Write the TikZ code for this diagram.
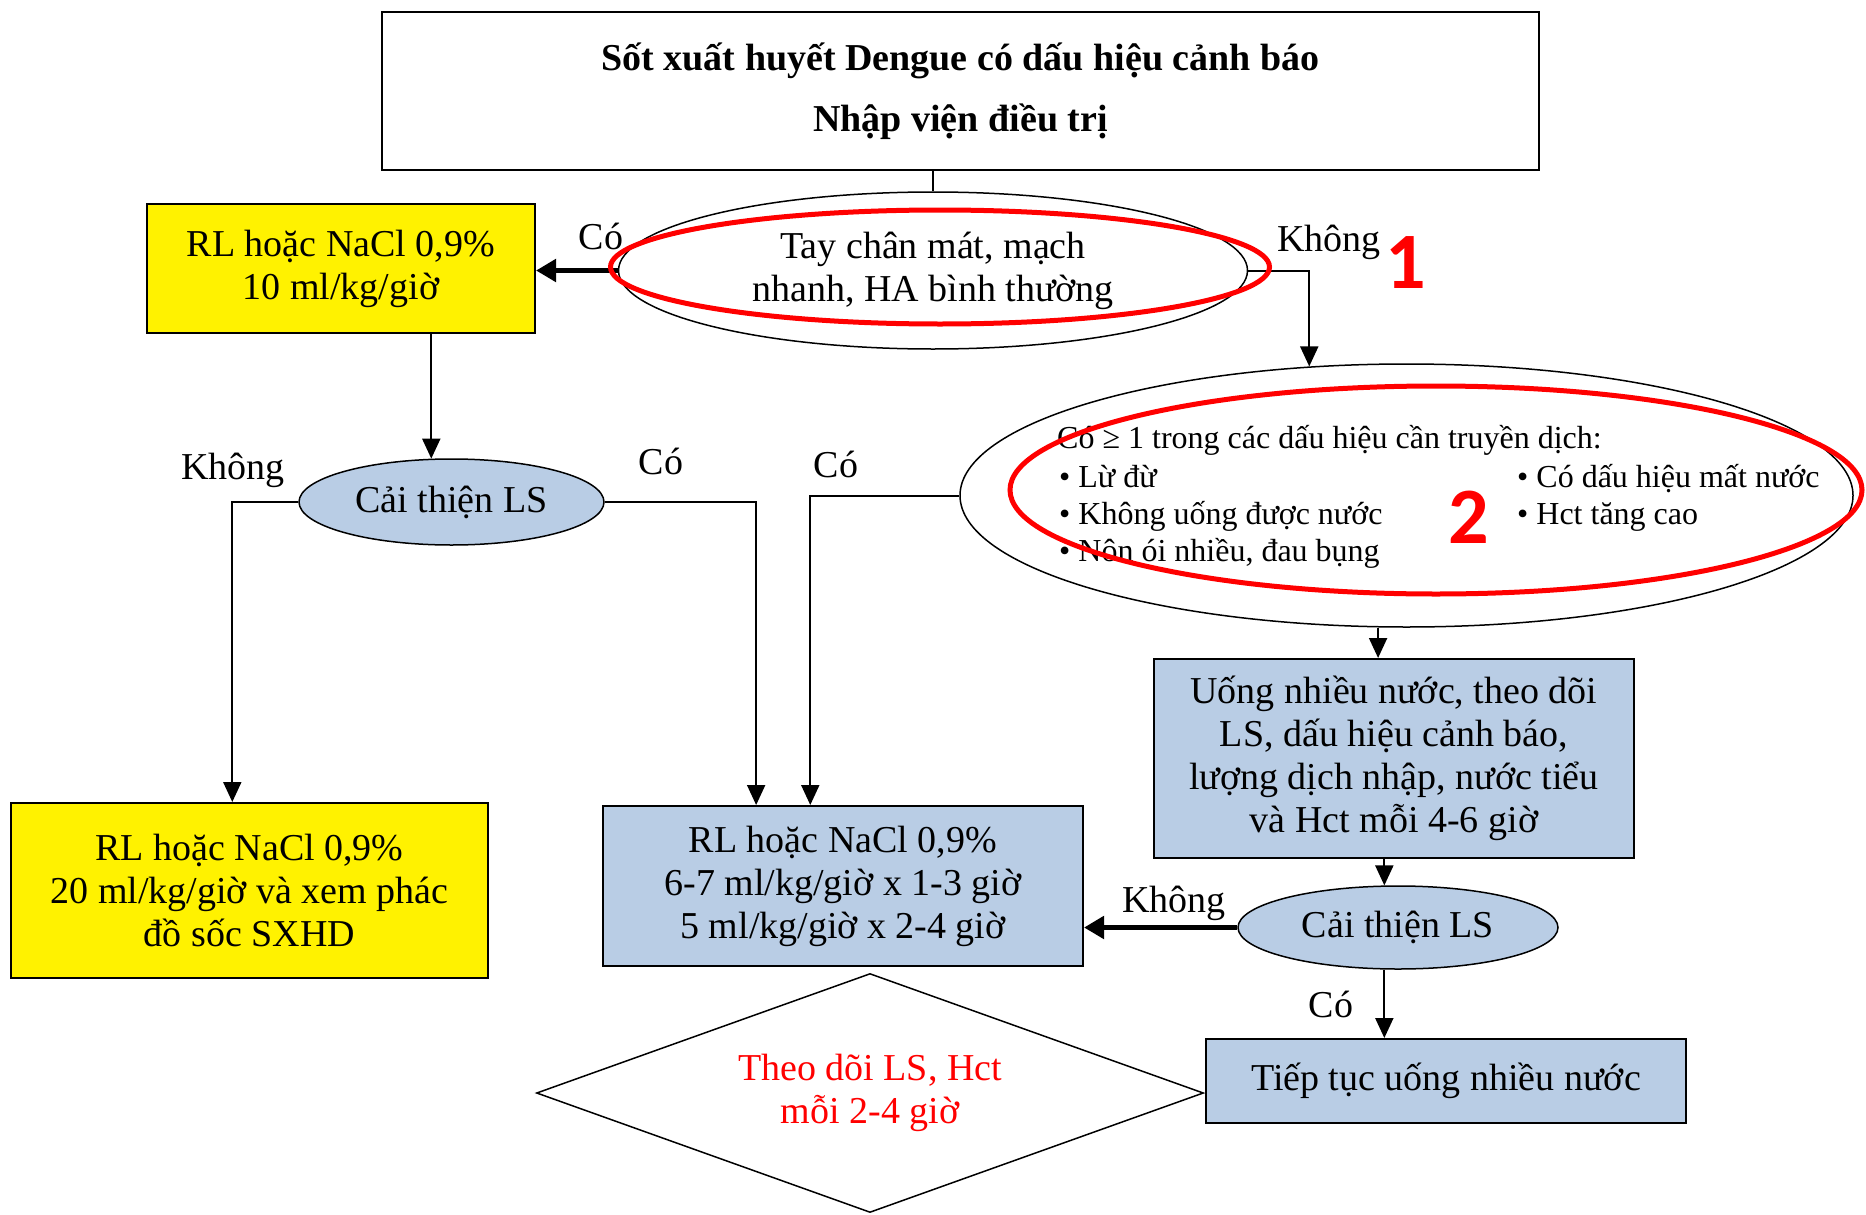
\documentclass[tikz,border=0pt]{standalone}
\usepackage{fontspec}
\setmainfont{Liberation Serif}
\newfontfamily\chiffres{Carlito}
\usetikzlibrary{shapes.geometric,arrows.meta,positioning}
\definecolor{bleuclair}{RGB}{185,205,229}

\begin{document}
\begin{tikzpicture}[x=1pt,y=-1pt,font=\fontsize{38}{43}\selectfont,
  boite/.style={draw,line width=2pt,align=center,inner sep=0pt},
  jaune/.style={boite,fill=yellow},
  bleu/.style={boite,fill=bleuclair},
  bulle/.style={ellipse,draw,line width=1.5pt,align=center,inner sep=0pt},
  cerne/.style={ellipse,draw=red,line width=5pt,inner sep=0pt},
  trait/.style={line width=2pt},
  fleche/.style={-{Triangle[length=20pt,width=18pt]},line width=2pt},
  grosse/.style={-{Triangle[length=20pt,width=22pt]},line width=5pt},
  petit/.style={font=\fontsize{32}{37}\selectfont,inner sep=0pt,anchor=base west},
  chiffre/.style={text=red,font=\chiffres\bfseries\fontsize{80}{80}\selectfont,inner sep=0pt}]
\useasboundingbox (0,0) rectangle (1866,1215);
% les boites
\node[boite,minimum width=1157pt,minimum height=158pt,
      font=\bfseries\fontsize{38}{61}\selectfont] (titre) at (960.5,91)
  {Sốt xuất huyết Dengue có dấu hiệu cảnh báo\\Nhập viện điều trị};
\node[bulle,minimum width=629pt,minimum height=157pt] (ell1) at (933,270.5)
  {Tay chân mát, mạch\\nhanh, HA bình thường};
\node[jaune,minimum width=388pt,minimum height=129pt] (jaune1) at (341,268.5)
  {RL hoặc NaCl 0,9\%\\10 ml/kg/giờ};
\node[bulle,fill=bleuclair,minimum width=305pt,minimum height=86pt] (cai1) at (451.5,502)
  {Cải thiện LS};
\node[jaune,minimum width=477pt,minimum height=175pt] (jaune2) at (249.5,890.5)
  {RL hoặc NaCl 0,9\%\\20 ml/kg/giờ và xem phác\\đồ sốc SXHD};
\node[bleu,minimum width=480pt,minimum height=160pt] (bleu1) at (843,886)
  {RL hoặc NaCl 0,9\%\\6-7 ml/kg/giờ x 1-3 giờ\\5 ml/kg/giờ x 2-4 giờ};
\node[diamond,aspect=2.8,draw,line width=1.5pt,inner sep=0pt,align=center,text=red,
      minimum width=667pt,minimum height=239pt] (losange) at (870,1093)
  {Theo dõi LS, Hct\\mỗi 2-4 giờ};
\node[bulle,minimum width=893pt,minimum height=263pt] (ell2) at (1406.5,495.5) {};
\node[petit] (entete) at (1057,448) {Có ≥ 1 trong các dấu hiệu cần truyền dịch:};
\node[petit] (g1) at (1059,487) {• Lừ đừ};
\node[petit] (g2) at (1059,524) {• Không uống được nước};
\node[petit] (g3) at (1059,561) {• Nôn ói nhiều, đau bụng};
\node[petit] (d1) at (1517,487) {• Có dấu hiệu mất nước};
\node[petit] (d2) at (1517,524) {• Hct tăng cao};
\node[bleu,minimum width=480pt,minimum height=199pt] (suivi) at (1394,758.5)
  {Uống nhiều nước, theo dõi\\LS, dấu hiệu cảnh báo,\\lượng dịch nhập, nước tiểu\\và Hct mỗi 4-6 giờ};
\node[bulle,fill=bleuclair,minimum width=320pt,minimum height=83pt] (cai2) at (1398,927.5)
  {Cải thiện LS};
\node[bleu,minimum width=480pt,minimum height=84pt] (boire) at (1446,1081)
  {Tiếp tục uống nhiều nước};
% les etiquettes
\node (oui1) at (601,236) {Có};
\node (non1) at (1329,242) {Không};
\node (non2) at (233,470) {Không};
\node (oui2) at (661,461) {Có};
\node (oui3) at (836,464) {Có};
\node (non3) at (1174,903) {Không};
\node (oui4) at (1331,1004) {Có};
% les fleches
\draw[trait] (titre.south -| ell1.north) -- (ell1.north);
\draw[grosse] (ell1.west) -- (ell1.west -| jaune1.east);
\draw[fleche] (ell1.east) -| (ell2.127);
\draw[fleche] (jaune1.south -| cai1.115) -- (cai1.115);
\draw[fleche] (cai1.west) -| (jaune2.101);
\draw[fleche] (cai1.east) -| (bleu1.137);
\draw[fleche] (ell2.west) -| (bleu1.112);
\draw[fleche] (ell2.south -| suivi.99) -- (suivi.99);
\draw[fleche] (suivi.south -| cai2.108) -- (cai2.108);
\draw[grosse] (cai2.west) -- (cai2.west -| bleu1.east);
\draw[fleche] (cai2.252) -- (cai2.252 |- boire.north);
% les cercles rouges
\node[cerne,minimum width=659pt,minimum height=114pt] (rouge1) at (940,267) {};
\node[cerne,minimum width=852pt,minimum height=208pt] (rouge2) at (1436,490) {};
\node[chiffre] (n1) at (1406,263) {1};
\node[chiffre] (n2) at (1469,517) {2};
\end{tikzpicture}
\end{document}
